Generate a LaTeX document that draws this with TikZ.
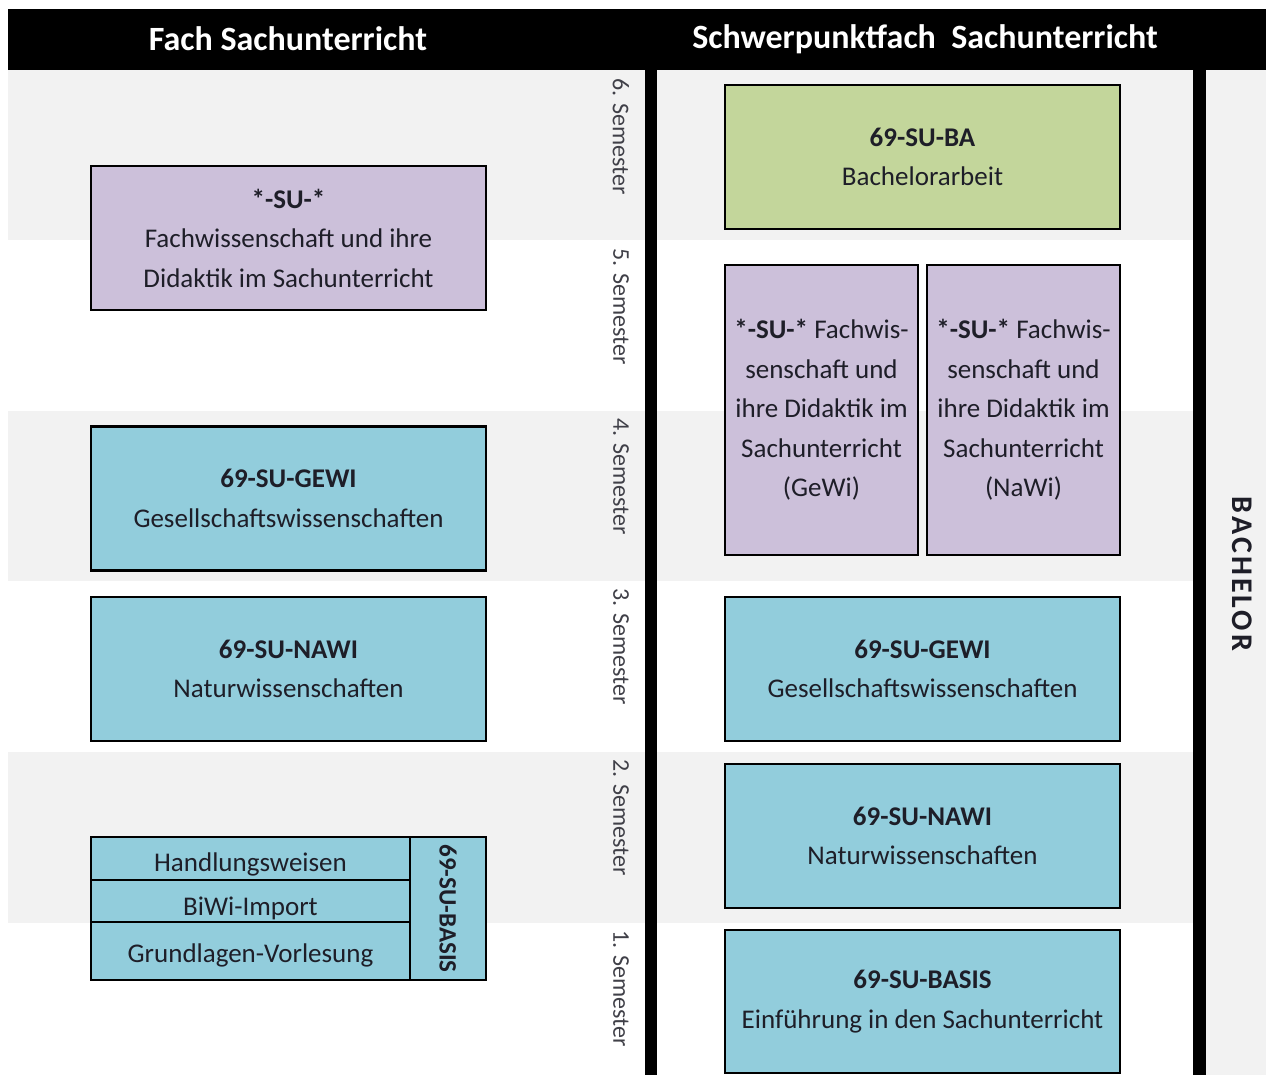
\documentclass[tikz,border=0pt]{standalone}
\usepackage{fontspec}
\setmainfont{Carlito}
\definecolor{bandgray}{HTML}{F2F2F2}
\definecolor{modblue}{HTML}{92CDDC}
\definecolor{modpurple}{HTML}{CCC0DA}
\definecolor{modgreen}{HTML}{C3D69B}
\definecolor{textc}{HTML}{1E1E28}
\begin{document}
\begin{tikzpicture}[x=1pt,y=-1pt,
  modbox/.style={draw=black, line width=2.2pt, align=center, inner sep=0pt,
    text=textc, font=\fontsize{27}{39.5}\selectfont},
  bluebox/.style={modbox, fill=modblue, minimum width=395pt, minimum height=144pt},
  greenbox/.style={modbox, fill=modgreen, minimum width=395pt, minimum height=144pt},
  purplebox/.style={modbox, fill=modpurple},
  cell/.style={draw=black, line width=2.2pt, fill=modblue, inner sep=0pt,
    text=textc, font=\fontsize{27}{30}\selectfont},
  celltext/.style={inner sep=0pt, text=textc, font=\fontsize{27}{30}\selectfont},
  semlabel/.style={rotate=-90, anchor=west, inner sep=0pt, text=textc!85,
    font=\fontsize{24}{27}\selectfont},
  headtext/.style={text=white, font=\fontsize{34}{36}\selectfont\bfseries},
  divider/.style={fill=black, draw=none}
]
\useasboundingbox (0,0) rectangle (1266,1075);
\fill[white] (0,0) rectangle (1266,1075);
% bands
\fill[bandgray] (8,70) rectangle (1193,240);
\fill[bandgray] (8,411) rectangle (1193,581);
\fill[bandgray] (8,752) rectangle (1193,923);
\fill[bandgray] (1206,70) rectangle (1266,1075);
% header
\fill[black] (8,9) rectangle (1266,70);
\node[headtext] (h1) at (288,39) {Fach Sachunterricht};
\node[headtext] (h2) at (925,39) {Schwerpunktfach\ \ Sachunterricht};
% vertical dividers
\fill[divider] (645,70) rectangle (657,1075);
\fill[divider] (1193,70) rectangle (1206,1075);
% semester labels
\node[semlabel] (s6) at (621,78) {6. Semester};
\node[semlabel] (s5) at (621,248) {5. Semester};
\node[semlabel] (s4) at (621,418) {4. Semester};
\node[semlabel] (s3) at (621,588) {3. Semester};
\node[semlabel] (s2) at (621,759) {2. Semester};
\node[semlabel] (s1) at (621,930) {1. Semester};
% BACHELOR
\node[rotate=-90, inner sep=0pt, text=textc, font=\fontsize{30}{32}\selectfont\bfseries\addfontfeature{LetterSpace=10}] (bach) at (1242,574) {BACHELOR};
% left column
\node[purplebox, minimum width=395pt, minimum height=144pt] (lsu) at (288.5,238)
  {\textbf{*-SU-*}\\Fachwissenschaft und ihre\\Didaktik im Sachunterricht};
\node[bluebox] (lgewi) at (288.5,498.5) {\textbf{69-SU-GEWI}\\Gesellschaftswissenschaften};
\node[bluebox] (lnawi) at (288.5,669) {\textbf{69-SU-NAWI}\\Naturwissenschaften};
% basis composite
\node[cell, minimum width=319pt, minimum height=43pt] (hw) at (250.5,858.5) {};
\node[cell, minimum width=319pt, minimum height=42pt] (biwi) at (250.5,901) {};
\node[cell, minimum width=319pt, minimum height=58pt] (gv) at (250.5,951) {};
\node[celltext] (hwt) at ([yshift=-6pt]hw.center) {Handlungsweisen};
\node[celltext] (biwit) at ([yshift=-7pt]biwi.center) {BiWi-Import};
\node[celltext] (gvt) at ([yshift=-4pt]gv.center) {Grundlagen-Vorlesung};
\node[cell, minimum width=76pt, minimum height=143pt] (lbside) at (448,908.5) {};
\node[rotate=-90, inner sep=0pt, text=textc, font=\fontsize{25}{27}\selectfont\bfseries] (lbtext) at (lbside.center) {69-SU-BASIS};
% right column
\node[greenbox] (ba) at (922.5,157) {\textbf{69-SU-BA}\\Bachelorarbeit};
\node[purplebox, minimum width=193pt, minimum height=290pt] (pg) at (821.5,410)
  {\textbf{*-SU-*} Fachwis-\\senschaft und\\ihre Didaktik im\\Sachunterricht\\(GeWi)};
\node[purplebox, minimum width=193pt, minimum height=290pt] (pn) at (1023.5,410)
  {\textbf{*-SU-*} Fachwis-\\senschaft und\\ihre Didaktik im\\Sachunterricht\\(NaWi)};
\node[bluebox] (rgewi) at (922.5,669) {\textbf{69-SU-GEWI}\\Gesellschaftswissenschaften};
\node[bluebox] (rnawi) at (922.5,836) {\textbf{69-SU-NAWI}\\Naturwissenschaften};
\node[bluebox, minimum height=143pt] (rbasis) at (922.5,1001.5) {\textbf{69-SU-BASIS}\\Einführung in den Sachunterricht};
\end{tikzpicture}
\end{document}
